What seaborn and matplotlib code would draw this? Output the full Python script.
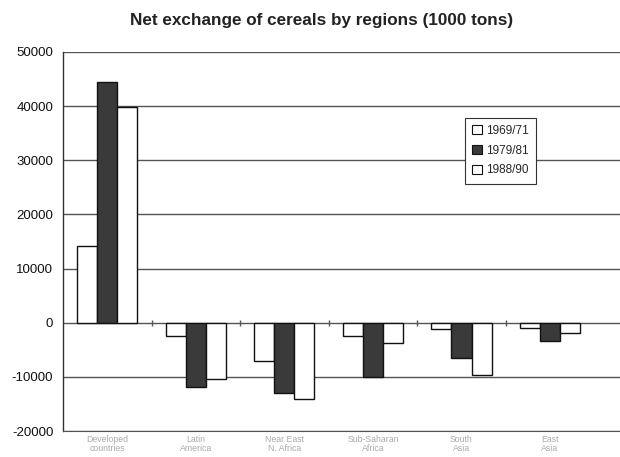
import matplotlib
matplotlib.use("Agg")
import matplotlib.pyplot as plt
import seaborn as sns
import pandas as pd
from matplotlib.patches import Patch

regions = ["Developed\ncountries", "Latin\nAmerica", "Near East\nN. Africa",
           "Sub-Saharan\nAfrica", "South\nAsia", "East\nAsia"]
periods = ["1969/71", "1979/81", "1988/90"]
v_1969 = [14100, -2500, -7000, -2500, -1200, -1000]
v_1979 = [44400, -11800, -12900, -10000, -6500, -3300]
v_1988 = [39800, -10400, -14100, -3700, -9700, -1900]
yticks = [-20000, -10000, 0, 10000, 20000, 30000, 40000, 50000]

rows = []
for per, vals in zip(periods, [v_1969, v_1979, v_1988]):
    for r, v in zip(regions, vals):
        rows.append({"region": r, "period": per, "value": v})
df = pd.DataFrame(rows)

sns.set_style("white")
plt.rcParams["font.family"] = ["Liberation Sans", "DejaVu Sans"]

fig = plt.figure(figsize=(6.2, 4.57), dpi=100)
ax = fig.add_axes([63 / 620, 1 - 431 / 457, 1 - 63 / 620, (431 - 52) / 457])

palette = {"1969/71": "#ffffff", "1979/81": "#3a3a3a", "1988/90": "#ffffff"}
sns.barplot(data=df, x="region", y="value", hue="period", hue_order=periods,
            order=regions, palette=palette, width=0.68, gap=0,
            edgecolor="#111111", linewidth=1.0, saturation=1, ax=ax,
            legend=False, zorder=3)

ax.set_ylim(-20000, 50000)
ax.set_xlim(-0.5, 5.79)
ax.set_yticks(yticks)
ax.set_yticklabels([str(t) for t in yticks], fontsize=9.5, color="#111111")
for t in yticks:
    ax.axhline(t, color="#555555", lw=1.0, zorder=1)

for s in ["top", "right"]:
    ax.spines[s].set_visible(False)
ax.spines["left"].set_color("#333333")
ax.spines["bottom"].set_color("#555555")
ax.spines["left"].set_linewidth(1.0)
ax.tick_params(axis="y", direction="out", length=4, width=1, color="#333333", pad=3)
ax.tick_params(axis="x", length=0, pad=3, labelsize=6.3, labelcolor="#aaaaaa")
for lab in ax.get_xticklabels():
    lab.set_linespacing(1.0)
ax.set_xlabel("")
ax.set_ylabel("")

sec = ax.secondary_xaxis(0, transform=ax.transData)
sec.set_xticks([0.5, 1.5, 2.5, 3.5, 4.5])
sec.tick_params(direction="inout", length=5, width=1, color="#555555", labelbottom=False)
sec.spines["bottom"].set_visible(False)

handles = [Patch(facecolor=palette[p], edgecolor="#111111", linewidth=0.8, label=p) for p in periods]
leg = ax.legend(handles=handles, loc="upper left", bbox_to_anchor=(465 / 620, 1 - 118 / 457),
                bbox_transform=fig.transFigure, frameon=True, fancybox=False, fontsize=8.5,
                handlelength=0.8, handleheight=0.8, handletextpad=0.4, labelspacing=0.65,
                borderpad=0.6, borderaxespad=0, edgecolor="#333333", framealpha=1)
leg.get_frame().set_linewidth(0.8)
leg.set_zorder(5)

fig.text(322 / 620, 1 - 20 / 457, "Net exchange of cereals by regions (1000 tons)",
         ha="center", va="center", fontsize=12.3, fontweight="bold", color="#222222")

fig.savefig("out.png", dpi=100)
